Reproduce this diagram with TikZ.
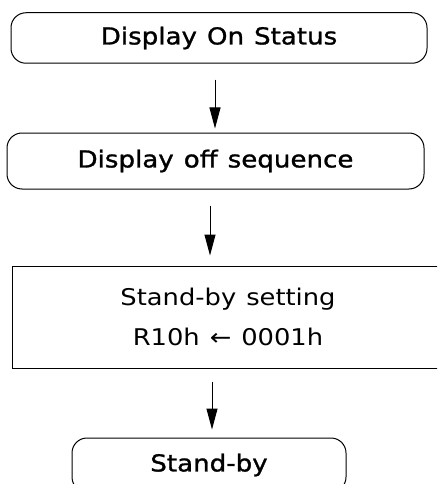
\documentclass[tikz,border=0pt]{standalone}
\usepackage{fontspec}
\setmainfont[FakeStretch=1.12]{DejaVu Sans}
\newfontfamily\heavyfont[FakeStretch=1.12,FakeBold=1.2]{DejaVu Sans}
\usetikzlibrary{arrows.meta}
\newcommand\widesp{\spaceskip=10pt\relax}
\tikzset{
  rbox/.style={draw, line width=1pt, rounded corners=15pt, inner sep=0pt,
    font=\heavyfont\fontsize{23.3}{28}\selectfont},
  sbox/.style={draw, line width=1pt, inner sep=0pt, align=center,
    font=\fontsize{23}{40}\selectfont},
  flow/.style={line width=1pt, -{Triangle[width=11pt,length=21pt]}}
}
\begin{document}
\begin{tikzpicture}[x=1pt,y=-1pt]
\clip (0,0) rectangle (437,484);
\fill[white] (0,0) rectangle (437,484);
\node[rbox, minimum width=416pt, minimum height=50.5pt] (b1) at (219,38) {\widesp Display On Status};
\node[rbox, minimum width=417pt, minimum height=56pt] (b2) at (215.5,161) {\widesp Display off sequence};
\node[sbox, minimum width=432pt, minimum height=102pt] (b3) at (228,317) {\widesp Stand-by setting\\\widesp R10h ← 0001h};
\node[rbox, minimum width=274pt, minimum height=54pt] (b4) at (209,465) {Stand-by};
\draw[flow] ([xshift=-4pt,yshift=-16pt]b1.south) -- ([xshift=-0.5pt,yshift=4pt]b2.north);
\draw[flow] ([xshift=-5.5pt,yshift=-16pt]b2.south) -- ([xshift=-18pt,yshift=10pt]b3.north);
\draw[flow] ([xshift=-16pt,yshift=-13pt]b3.south) -- ([xshift=3pt,yshift=8pt]b4.north);
\end{tikzpicture}
\end{document}
